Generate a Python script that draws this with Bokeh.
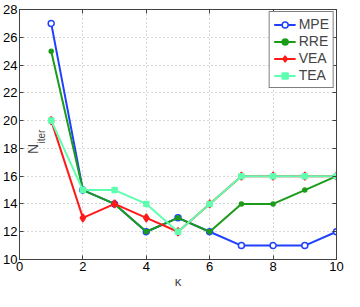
import math
from bokeh.plotting import figure
from bokeh.models import LinearAxis, FixedTicker, Label, Legend
from bokeh.embed import file_html
from bokeh.resources import INLINE

kappa = [1, 2, 3, 4, 5, 6, 7, 8, 9, 10]
mpe = [27, 15, 14, 12, 13, 12, 11, 11, 11, 12]
rre = [25, 15, 14, 12, 13, 12, 14, 14, 15, 16]
vea = [20, 13, 14, 13, 12, 14, 16, 16, 16, 16]
tea = [20, 15, 15, 14, 12, 14, 16, 16, 16, 16]
x_ticks = [0, 2, 4, 6, 8, 10]
y_ticks = [10, 12, 14, 16, 18, 20, 22, 24, 26, 28]

FONT = "Liberation Sans"
AX = "#404040"

p = figure(width=344, height=291, x_range=(0, 10), y_range=(10, 28),
           output_backend="svg", toolbar_location=None,
           min_border_left=4, min_border_right=8, min_border_top=9, min_border_bottom=20)
p.outline_line_color = AX
p.background_fill_color = "white"
p.border_fill_color = "white"

for ax in [p.xaxis[0], p.yaxis[0]]:
    ax.axis_line_color = AX
    ax.major_tick_line_color = AX
    ax.major_tick_in = 4
    ax.major_tick_out = 0
    ax.minor_tick_line_color = None
    ax.major_label_text_font = FONT
    ax.major_label_text_font_size = "13px"
    ax.major_label_text_color = "black"
    ax.major_label_standoff = 2
p.xaxis.ticker = FixedTicker(ticks=x_ticks)
p.yaxis.ticker = FixedTicker(ticks=y_ticks)
p.xaxis.axis_label = "κ"
p.xaxis.axis_label_text_font = FONT
p.xaxis.axis_label_text_font_style = "normal"
p.xaxis.axis_label_text_font_size = "13px"
p.xaxis.axis_label_standoff = 0

for loc, tk in [("above", x_ticks), ("right", y_ticks)]:
    a = LinearAxis(ticker=FixedTicker(ticks=tk), major_label_text_font_size="1px",
                   major_label_text_color=None, major_label_text_alpha=0,
                   major_label_standoff=0, major_tick_in=4, major_tick_out=0,
                   minor_tick_line_color=None, axis_line_color=AX,
                   major_tick_line_color=AX)
    p.add_layout(a, loc)

p.grid.grid_line_color = "#b0b0b0"
p.grid.grid_line_dash = "1 3"
p.xgrid.ticker = FixedTicker(ticks=x_ticks)
p.ygrid.ticker = FixedTicker(ticks=y_ticks)

series = [
    ("MPE", mpe, "#2040ff", "circle", 6, "white"),
    ("RRE", rre, "#1a9c1a", "circle", 4, None),
    ("VEA", vea, "#ff1a1a", "diamond", 8, None),
    ("TEA", tea, "#5fffb0", "square", 5, None),
]
items = []
for name, ys, col, mk, sz, fill in series:
    l = p.line(kappa, ys, line_color=col, line_width=2)
    s = p.scatter(kappa, ys, marker=mk, size=sz, line_color=col, line_width=1.5,
                  fill_color=(col if fill is None else fill))
    items.append((name, [l, s]))

legend = Legend(items=items, location="top_right")
legend.border_line_color = "black"
legend.border_line_width = 1
legend.background_fill_color = "white"
legend.background_fill_alpha = 1
legend.label_text_font = FONT
legend.label_text_font_size = "14px"
legend.glyph_width = 22
legend.glyph_height = 15
legend.label_height = 15
legend.label_standoff = 3
legend.spacing = 1
legend.padding = 4
legend.margin = 2
p.add_layout(legend, "center")

p.add_layout(Label(x=0, y=17.6, x_offset=13, text="N", angle=math.pi / 2,
                   text_font=FONT, text_font_size="14px", text_baseline="alphabetic"))
p.add_layout(Label(x=0, y=18.35, x_offset=22, text="iter", angle=math.pi / 2,
                   text_font=FONT, text_font_size="10px", text_baseline="alphabetic"))

open("out.html", "w").write(file_html(p, INLINE))
